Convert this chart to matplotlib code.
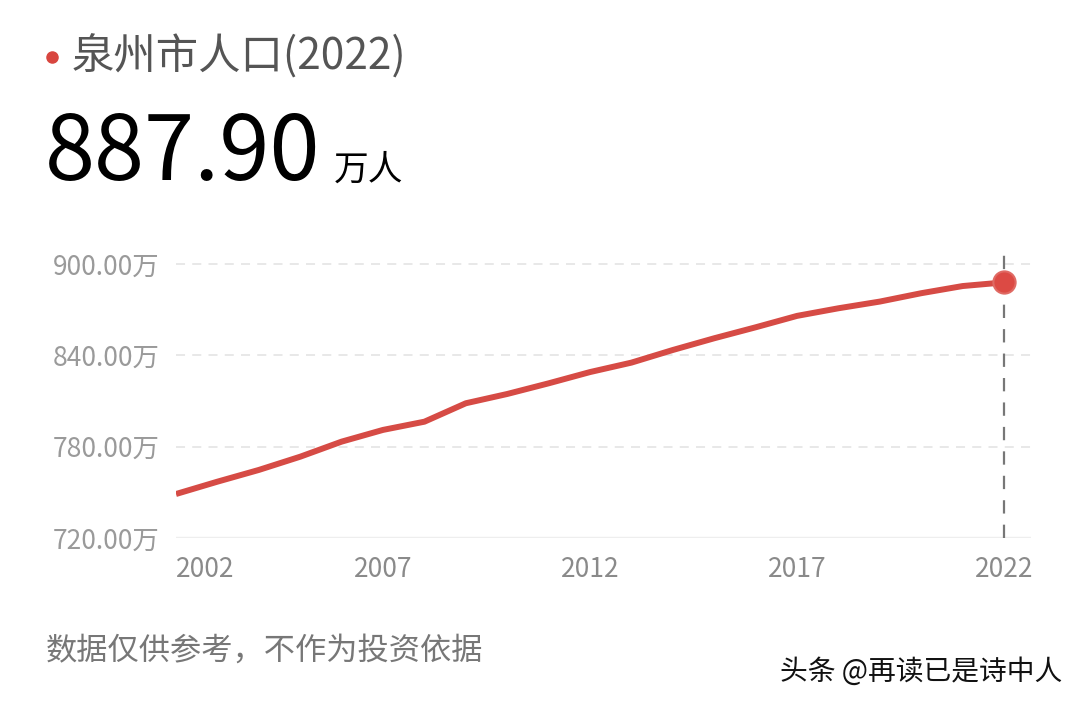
import matplotlib
matplotlib.use("Agg")
import matplotlib.pyplot as plt
from matplotlib.lines import Line2D

plt.rcParams['font.family'] = ['Noto Sans CJK SC', 'DejaVu Sans']

years = list(range(2002, 2023))
population = [748.9, 757.0, 764.7, 773.4, 783.3, 791.0, 796.4, 808.5, 814.6, 821.6,
              829.0, 835.2, 843.5, 851.2, 858.4, 865.9, 870.9, 875.3, 880.8, 885.5, 887.9]
y_ticks = [720, 780, 840, 900]
y_tick_labels = ['720.00万', '780.00万', '840.00万', '900.00万']
x_ticks = [2002, 2007, 2012, 2017, 2022]
x_tick_labels = ['2002', '2007', '2012', '2017', '2022']
title = '泉州市人口(2022)'
headline_value = '887.90'
headline_unit = '万人'
footer = '数据仅供参考，不作为投资依据'
watermark = '头条 @再读已是诗中人'

W, H = 1080, 703
fig = plt.figure(figsize=(W / 100, H / 100), dpi=100)
fig.patch.set_facecolor('white')

def fx(px):
    return px / W

def fy(py):
    return 1 - py / H

ax = fig.add_axes([fx(176), fy(538), fx(1031) - fx(176), fy(252.7) - fy(538)])
ax.set_xlim(2002, 2022.65)
ax.set_ylim(720, 907.4)
for s in ax.spines.values():
    s.set_visible(False)

# grid lines
for yv in y_ticks[1:]:
    ax.axhline(yv, color='#e6e6e6', lw=1.3, ls=(0, (5, 4)), zorder=1)
ax.axhline(y_ticks[0], color='#eeeeee', lw=2.5, zorder=1)

# vertical marker line
ax.axvline(years[-1], color='#777777', lw=1.6, ls=(0, (6, 5)), zorder=2)

line_color = '#d64b45'
ax.plot(years, population, color=line_color, lw=4.3, solid_capstyle='butt', zorder=3)
ax.plot([years[-1]], [population[-1]], 'o', ms=16, color='#dc4a44',
        markeredgecolor='#e06a64', markeredgewidth=1.5, zorder=4)

ax.set_yticks(y_ticks)
ax.set_yticklabels(y_tick_labels, color='#9a9a9a', fontsize=19)
ax.set_xticks(x_ticks)
ax.set_xticklabels(x_tick_labels, color='#8a8a8a', fontsize=19)
ax.tick_params(axis='both', length=0)
ax.tick_params(axis='y', pad=12)
ax.tick_params(axis='x', pad=13)
labels = ax.get_xticklabels()
labels[0].set_horizontalalignment('left')

# header
fig.add_artist(Line2D([fx(52)], [fy(57)], marker='o', ms=8, color='#d8463f',
                      transform=fig.transFigure))
fig.text(fx(72), fy(57), title, fontsize=30.5, color='#555555', va='center', ha='left')
fig.text(fx(45), fy(180), headline_value, fontsize=65, color='#000000',
         va='baseline', ha='left')
fig.text(fx(334), fy(180), headline_unit, fontsize=25, color='#000000',
         va='baseline', ha='left')

fig.text(fx(46), fy(660), footer, fontsize=22.5, color='#777777', va='baseline', ha='left')
fig.text(fx(780), fy(680), watermark, fontsize=20, color='#111111', va='baseline', ha='left')

fig.savefig('out.png', dpi=100, facecolor='white')
